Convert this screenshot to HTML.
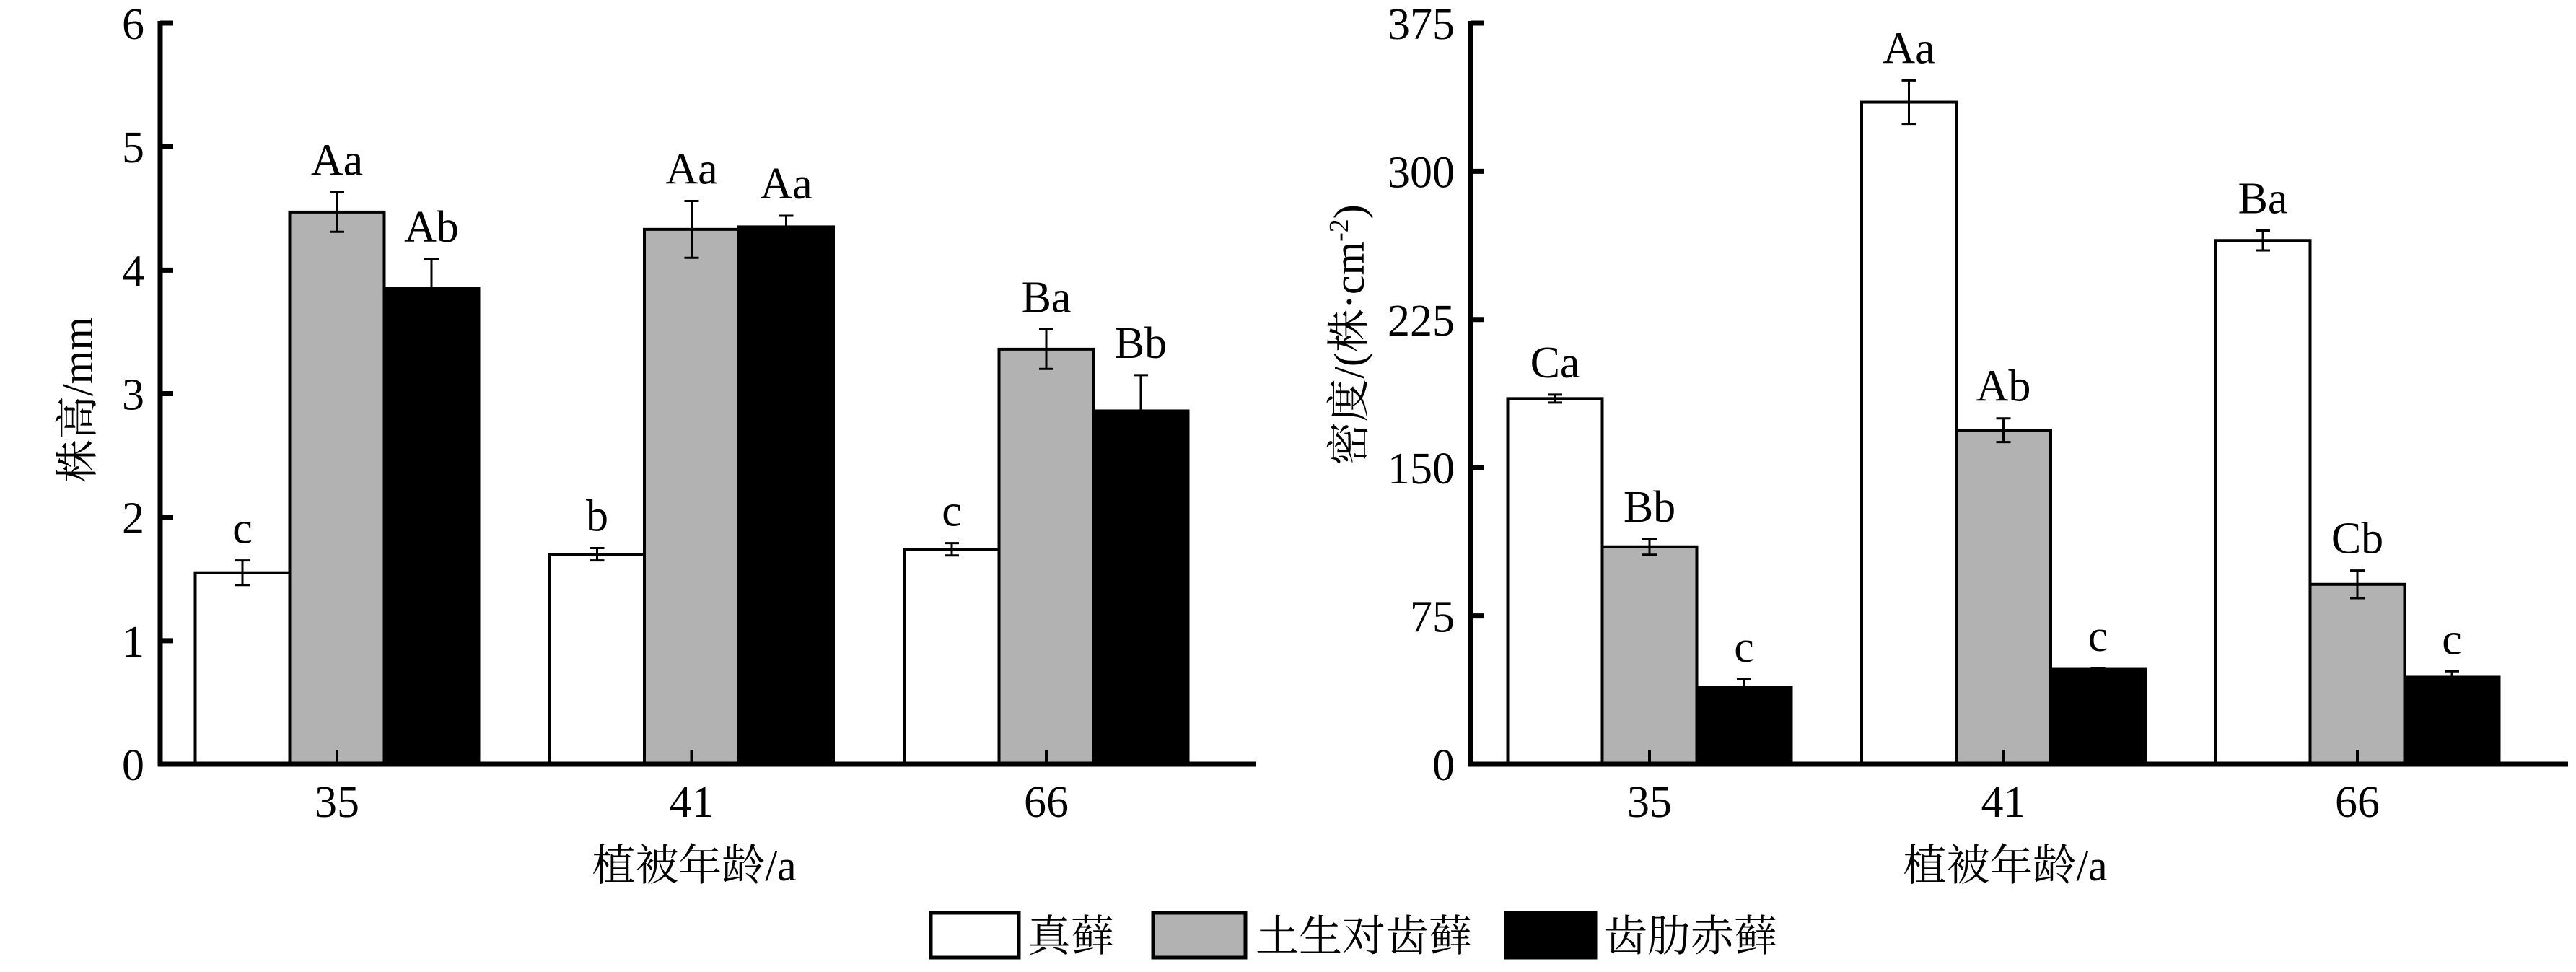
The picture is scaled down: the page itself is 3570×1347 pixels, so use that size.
<!DOCTYPE html>
<html><head><meta charset="utf-8"><style>
html,body{margin:0;padding:0;background:#fff;}
svg{display:block;}
text{font-family:"Liberation Serif","Noto Serif CJK SC",serif;fill:#000;}
</style></head><body>
<svg id="chart" width="3570" height="1347" viewBox="0 0 3570 1347" xmlns="http://www.w3.org/2000/svg">
<g id="legend">
  <g>
    <rect x="1290" y="1265" width="122" height="62" fill="#fff" stroke="#000" stroke-width="5"/>
    <text x="1424" y="1318" font-size="60">真藓</text>
  </g>
  <g>
    <rect x="1598" y="1265" width="128" height="62" fill="#b2b2b2" stroke="#000" stroke-width="5"/>
    <text x="1740" y="1318" font-size="60">土生对齿藓</text>
  </g>
  <g>
    <rect x="2087" y="1265" width="124" height="62" fill="#000" stroke="#000" stroke-width="5"/>
    <text x="2223" y="1318" font-size="60">齿肋赤藓</text>
  </g>
</g>
</svg>
<script>
const categories = ["35", "41", "66"];
const heightWhite = [1.55, 1.70, 1.74];
const heightGray = [4.47, 4.33, 3.36];
const heightBlack = [3.85, 4.35, 2.86];
const heightWhiteErr = [0.10, 0.05, 0.05];
const heightGrayErr = [0.16, 0.23, 0.16];
const heightBlackErr = [0.24, 0.09, 0.29];
const heightWhiteLbl = ["c", "b", "c"];
const heightGrayLbl = ["Aa", "Aa", "Ba"];
const heightBlackLbl = ["Ab", "Aa", "Bb"];
const heightTicks = [0, 1, 2, 3, 4, 5, 6];

const densWhite = [185, 335, 265];
const densGray = [110, 169, 91];
const densBlack = [39, 48, 44];
const densWhiteErr = [2, 11, 5];
const densGrayErr = [4, 6, 7];
const densBlackErr = [4, 0.5, 3];
const densWhiteLbl = ["Ca", "Aa", "Ba"];
const densGrayLbl = ["Bb", "Ab", "Cb"];
const densBlackLbl = ["c", "c", "c"];
const densTicks = [0, 75, 150, 225, 300, 375];

const NS = "http://www.w3.org/2000/svg";
const svg = document.getElementById("chart");
function mk(tag, attrs, parent) {
  const e = document.createElementNS(NS, tag);
  for (const k in attrs) e.setAttribute(k, attrs[k]);
  parent.appendChild(e);
  return e;
}

function drawChart(cfg) {
  const g = mk("g", {}, svg);
  
  
  const y0 = 1059, yTop = 32;
  const yScale = v => y0 - (v - cfg.min) / (cfg.max - cfg.min) * (y0 - yTop);
  const xCenter = i => cfg.firstCenter + i * cfg.spacing;
  const bw = 131;
  const series = [
    {vals: cfg.white, err: cfg.whiteErr, lbl: cfg.whiteLbl, fill: "#fff", key: "white"},
    {vals: cfg.gray, err: cfg.grayErr, lbl: cfg.grayLbl, fill: "#b2b2b2", key: "gray"},
    {vals: cfg.black, err: cfg.blackErr, lbl: cfg.blackLbl, fill: "#000", key: "black"}
  ];
  series.forEach((s, si) => {
    categories.forEach((c, i) => {
      const x = xCenter(i) + (si - 1.5) * bw;
      const yv = yScale(s.vals[i]);
      const r = mk("rect", {x: x, y: yv, width: bw, height: y0 - yv, fill: s.fill, stroke: "#000", "stroke-width": 4}, g);
      
      
      const cx = x + bw / 2;
      const yH = yScale(s.vals[i] + s.err[i]);
      const yL = yScale(s.vals[i] - s.err[i]);
      const eb = mk("path", {d: `M${cx},${yH}V${yL}M${cx-10},${yH}H${cx+10}M${cx-10},${yL}H${cx+10}`, stroke: "#000", "stroke-width": 3, fill: "none"}, g);
      
      
      const t = mk("text", {x: cx, y: yH - 24, "font-size": 62, "text-anchor": "middle"}, g);
      t.textContent = s.lbl[i];
      
      
    });
  });
  // axes
  const ya = mk("line", {x1: cfg.axisX, y1: yTop - 3, x2: cfg.axisX, y2: y0 + 3, stroke: "#000", "stroke-width": 7}, g);
  
  
  const xa = mk("line", {x1: cfg.axisX - 3, y1: y0, x2: cfg.axisEnd, y2: y0, stroke: "#000", "stroke-width": 7}, g);
  
  
  cfg.ticks.forEach(v => {
    const y = yScale(v);
    const tk = mk("line", {x1: cfg.axisX, y1: y, x2: cfg.axisX + 18, y2: y, stroke: "#000", "stroke-width": 7}, g);
    
    
    const tl = mk("text", {x: cfg.axisX - 22, y: y + 22, "font-size": 62, "text-anchor": "end"}, g);
    tl.textContent = v;
    
    
  });
  categories.forEach((c, i) => {
    const x = xCenter(i);
    const tk = mk("line", {x1: x, y1: y0, x2: x, y2: y0 - 20, stroke: "#000", "stroke-width": 4}, g);
    
    
    const tl = mk("text", {x: x, y: 1132, "font-size": 62, "text-anchor": "middle"}, g);
    tl.textContent = c;
    
    
  });
  const xt = mk("text", {x: cfg.xTitleX, y: 1220, "font-size": 60, "text-anchor": "middle"}, g);
  xt.textContent = "植被年龄/a";
  
  
  const yt = mk("text", {x: 0, y: 0, "font-size": 60, "text-anchor": "middle", transform: `translate(${cfg.yTitleX},${cfg.yTitleY}) rotate(-90)`}, g);
  yt.innerHTML = cfg.yTitle;
  
  
}

drawChart({name: "plant-height-chart", min: 0, max: 6, ticks: heightTicks,
  white: heightWhite, gray: heightGray, black: heightBlack,
  whiteErr: heightWhiteErr, grayErr: heightGrayErr, blackErr: heightBlackErr,
  whiteLbl: heightWhiteLbl, grayLbl: heightGrayLbl, blackLbl: heightBlackLbl,
  axisX: 222, axisEnd: 1741, firstCenter: 467, spacing: 491.5,
  xTitleX: 962, yTitleX: 128, yTitleY: 554, yTitle: "株高/mm"});

drawChart({name: "density-chart", min: 0, max: 375, ticks: densTicks,
  white: densWhite, gray: densGray, black: densBlack,
  whiteErr: densWhiteErr, grayErr: densGrayErr, blackErr: densBlackErr,
  whiteLbl: densWhiteLbl, grayLbl: densGrayLbl, blackLbl: densBlackLbl,
  axisX: 2038, axisEnd: 3559, firstCenter: 2286, spacing: 490.5,
  xTitleX: 2779, yTitleX: 1890, yTitleY: 464, yTitle: "密度/(株·cm<tspan font-size=\"38\" dy=\"-22\">-2</tspan><tspan dy=\"22\">)</tspan>"});
</script>
</body></html>
